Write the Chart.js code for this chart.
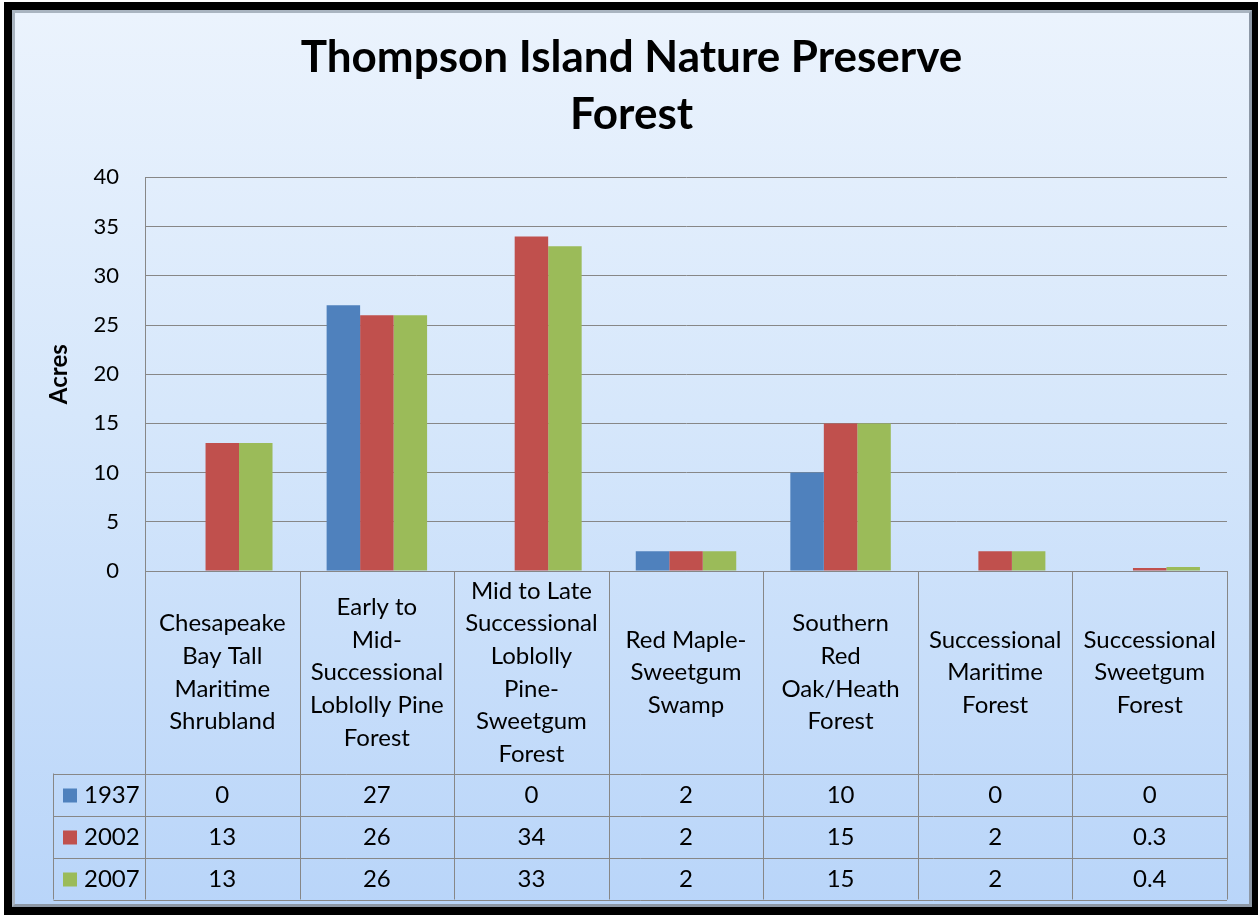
<!DOCTYPE html>
<html>
<head>
<meta charset="utf-8">
<script src="https://cdn.jsdelivr.net/npm/chart.js@4"></script>
<style>
  html, body { margin: 0; padding: 0; background: #fff; }
  #outer { position: absolute; left: 4px; top: 2px; width: 1254px; height: 913px; background: #000; }
  #inner {
    position: absolute; left: 12px; top: 10px; width: 1234px; height: 891px;
    border: 3px solid #a9b4c0; border-right-color: #8d98a6; border-bottom-color: #8d98a6;
    background: linear-gradient(to bottom, #ebf3fd 0%, #d6e7fb 45%, #b9d5f9 100%);
  }
  #c { position: absolute; left: 0; top: 0; }
</style>
</head>
<body>
<div id="outer"></div>
<div id="inner"></div>
<canvas id="c" width="1258" height="915"></canvas>
<script>
const categories = [
  ["Chesapeake", "Bay Tall", "Maritime", "Shrubland"],
  ["Early to", "Mid-", "Successional", "Loblolly Pine", "Forest"],
  ["Mid to Late", "Successional", "Loblolly", "Pine-", "Sweetgum", "Forest"],
  ["Red Maple-", "Sweetgum", "Swamp"],
  ["Southern", "Red", "Oak/Heath", "Forest"],
  ["Successional", "Maritime", "Forest"],
  ["Successional", "Sweetgum", "Forest"]
];
const seriesNames = ["1937", "2002", "2007"];
const values1937 = [0, 27, 0, 2, 10, 0, 0];
const values2002 = [13, 26, 34, 2, 15, 2, 0.3];
const values2007 = [13, 26, 33, 2, 15, 2, 0.4];
const yTicks = [0, 5, 10, 15, 20, 25, 30, 35, 40];

const FONT = "Lato, 'Open Sans', sans-serif";
const colors = ["#4f81bd", "#c0504d", "#9bbb59"];
const gridColor = "#878787";

// data table under the plot, columns follow the x scale
const dataTable = {
  id: "dataTable",
  afterDraw(chart) {
    const ctx = chart.ctx;
    const x = chart.scales.x;
    const area = chart.chartArea;
    const n = categories.length;
    const colW = (x.right - x.left) / n;
    const rowH = 42;
    const tableBottom = 899.5;
    const headerBottom = tableBottom - rowH * 3;
    const legendLeft = 53.5;

    ctx.save();
    ctx.strokeStyle = gridColor;
    ctx.lineWidth = 1;
    ctx.beginPath();
    for (let i = 0; i <= n; i++) {
      const px = Math.round(x.getPixelForValue(i) - colW / 2) + 0.5;
      ctx.moveTo(px, area.bottom);
      ctx.lineTo(px, tableBottom);
    }
    ctx.moveTo(legendLeft, headerBottom);
    ctx.lineTo(legendLeft, tableBottom);
    for (let r = 0; r <= 3; r++) {
      const py = Math.round(headerBottom + r * rowH) + 0.5;
      ctx.moveTo(legendLeft, py);
      ctx.lineTo(x.right, py);
    }
    ctx.stroke();

    ctx.font = "24px " + FONT;
    ctx.textBaseline = "middle";
    chart.data.datasets.forEach((ds, r) => {
      const cy = headerBottom + r * rowH + rowH / 2 + 1;
      ctx.fillStyle = ds.backgroundColor;
      ctx.fillRect(63, cy - 7, 14, 14);
      ctx.fillStyle = "#000";
      ctx.textAlign = "left";
      ctx.fillText(ds.label, 84, cy);
      ctx.textAlign = "center";
      ds.data.forEach((v, i) => {
        ctx.fillText(String(v), x.getPixelForValue(i), cy);
      });
    });
    ctx.restore();
  }
};

new Chart(document.getElementById("c"), {
  type: "bar",
  data: {
    labels: categories,
    datasets: [
      { label: seriesNames[0], data: values1937, backgroundColor: colors[0] },
      { label: seriesNames[1], data: values2002, backgroundColor: colors[1] },
      { label: seriesNames[2], data: values2007, backgroundColor: colors[2] }
    ]
  },
  options: {
    responsive: false,
    animation: false,
    devicePixelRatio: 1,
    layout: { padding: { left: 18, top: 29, right: 13, bottom: 16 } },
    datasets: { bar: { categoryPercentage: 0.65, barPercentage: 1 } },
    plugins: {
      legend: { display: false },
      tooltip: { enabled: false },
      title: {
        display: true,
        text: ["Thompson Island Nature Preserve", "Forest"],
        color: "#000",
        font: { family: FONT, size: 44, weight: "bold", lineHeight: 1.3 },
        padding: { top: 0, bottom: 34 }
      }
    },
    scales: {
      x: {
        grid: { display: false },
        border: { display: true, color: gridColor },
        ticks: {
          color: "#000",
          font: { family: FONT, size: 24, lineHeight: 1.36 },
          maxRotation: 0,
          autoSkip: false,
          crossAlign: "center",
          padding: 12
        },
        afterFit(scale) { scale.height = 328; }
      },
      y: {
        min: 0,
        max: 40,
        afterBuildTicks(scale) { scale.ticks = yTicks.map(v => ({ value: v })); },
        grid: { color: gridColor, drawTicks: false },
        border: { display: true, color: gridColor },
        ticks: {
          color: "#000",
          font: { family: FONT, size: 22 },
          padding: 26
        },
        title: {
          display: true,
          text: "Acres",
          color: "#000",
          font: { family: FONT, size: 24, weight: "bold" },
          padding: { top: 27, bottom: 0 }
        },
        afterFit(scale) { scale.width = 127; }
      },
      // empty strip on the right so the title sits over the whole frame
      yRight: {
        position: "right",
        display: true,
        grid: { display: false },
        border: { display: false },
        ticks: { display: false },
        afterFit(scale) { scale.width = 18; }
      }
    }
  },
  plugins: [dataTable]
});
</script>
</body>
</html>
